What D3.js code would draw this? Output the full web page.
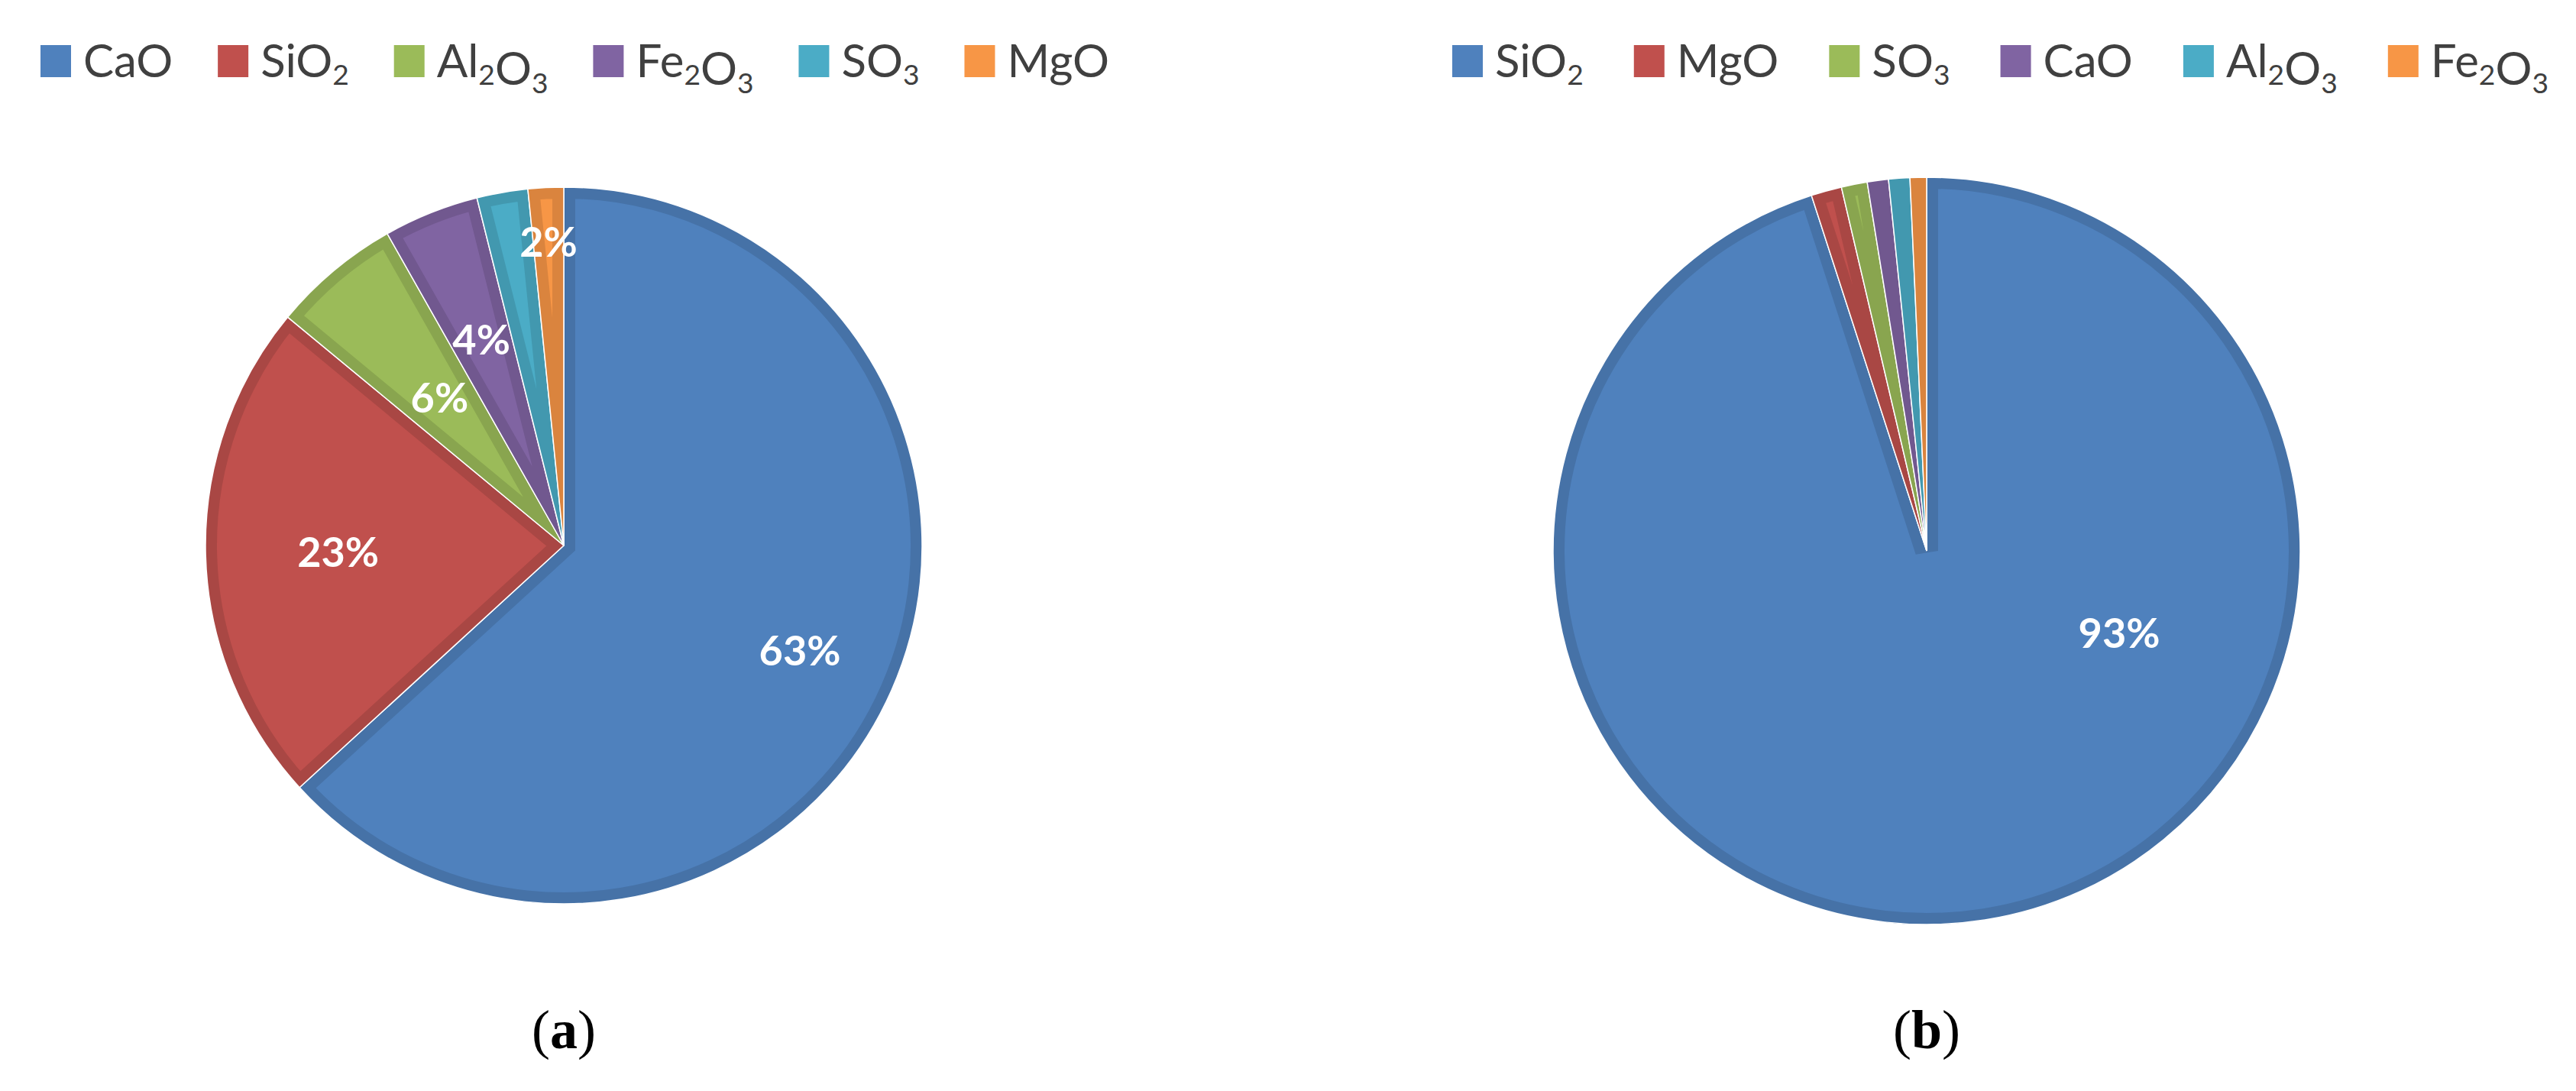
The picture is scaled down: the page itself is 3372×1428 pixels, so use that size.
<!DOCTYPE html>
<html><head><meta charset="utf-8">
<script src="https://cdn.jsdelivr.net/npm/d3@7"></script>
<style>body{margin:0;background:#fff}</style></head>
<body><svg id="c" width="3372" height="1428"></svg>
<script>
const catsA = ["CaO","SiO2","Al2O3","Fe2O3","SO3","MgO"];
const valsA = [63.2,22.8,5.8,4.3,2.3,1.6];
const shownA = [true,true,true,true,false,true];
const catsB = ["SiO2","MgO","SO3","CaO","Al2O3","Fe2O3"];
const valsB = [93.3,1.3,1.1,0.9,0.9,0.7];
const shownB = [true,false,false,false,false,false];
const panelLabels = ["a","b"];
const palette = ["#4f81bd","#c0504d","#9bbb59","#8064a2","#4bacc6","#f79646"];

const svg = d3.select("#c");
const font = "Lato, 'Open Sans', sans-serif";

function chem(sel, name){
  const parts = name.match(/[A-Za-z]+|\d+/g);
  parts.forEach(p=>{
    if(/\d/.test(p)) sel.append("tspan").attr("font-size","0.62em").attr("dy","0.28em").text(p)
      .clone(true).text("").attr("dy","-0.28em");
    else sel.append("tspan").text(p);
  });
}

function panel(cats, vals, shown, cx, cy, R, legX0, legX1, idx, labelStyle){
  const g = svg.append("g");
  const pie = d3.pie().sort(null).value(d=>d.v);
  const data = pie(cats.map((c,i)=>({c, v:vals[i], col:palette[i]})));
  const arc = d3.arc().innerRadius(0).outerRadius(R);
  const pg = g.append("g").attr("transform",`translate(${cx},${cy})`);
  data.forEach((d,i)=>{
    const id = `clip${idx}_${i}`;
    pg.append("clipPath").attr("id",id).append("path").attr("d",arc(d));
    pg.append("path").attr("d",arc(d)).attr("fill",d.data.col);
    pg.append("path").attr("d",arc(d)).attr("fill","none")
      .attr("stroke",d3.color(d.data.col).darker(0.35)).attr("stroke-width",30)
      .attr("clip-path",`url(#${id})`);
    pg.append("path").attr("d",arc(d)).attr("fill","none").attr("stroke","#fff").attr("stroke-width",1.5);
  });
  data.forEach((d,i)=>{
    if(!shown[i]) return;
    const st = labelStyle[i];
    const a = st.angle!=null ? st.angle : (d.startAngle+d.endAngle)/2;
    const r = R*st.r;
    pg.append("text").attr("x",r*Math.sin(a)).attr("y",-r*Math.cos(a)).attr("text-anchor","middle").attr("dominant-baseline","central")
      .attr("fill","#fff").attr("font-weight","bold").attr("font-family",font).attr("font-size",54)
      .text(Math.round(d.data.v)+"%");
  });
  // legend
  const items = [];
  cats.forEach((c,i)=>{
    const it = g.append("g");
    it.append("rect").attr("x",0).attr("y",59).attr("width",40).attr("height",42).attr("fill",palette[i]);
    const t = it.append("text").attr("x",56).attr("y",101).attr("font-family",font).attr("font-size",60).attr("fill","#404040");
    chem(t,c);
    items.push({it, w:56+t.node().getComputedTextLength()});
  });
  const total = d3.sum(items,d=>d.w);
  const gap = (legX1-legX0-total)/(items.length-1);
  let x = legX0;
  items.forEach(d=>{ d.it.attr("transform",`translate(${x},0)`); x += d.w+gap; });
  const pl = svg.append("text").attr("x",cx).attr("y",1372).attr("text-anchor","middle")
    .attr("font-family","'Liberation Serif', serif").attr("font-size",72).attr("fill","#000");
  pl.append("tspan").text("(");
  pl.append("tspan").attr("font-weight","bold").text(panelLabels[idx]);
  pl.append("tspan").text(")");
}
panel(catsA, valsA, shownA, 738, 714, 469, 53, 1452, 0,
  [{r:0.72},{r:0.63},{r:0.54},{r:0.62},{r:0},{r:0.85}]);
panel(catsB, valsB, shownB, 2522, 721, 489, 1901, 3336, 1,
  [{r:0.56, angle:Math.PI*113/180}]);
</script></body></html>
